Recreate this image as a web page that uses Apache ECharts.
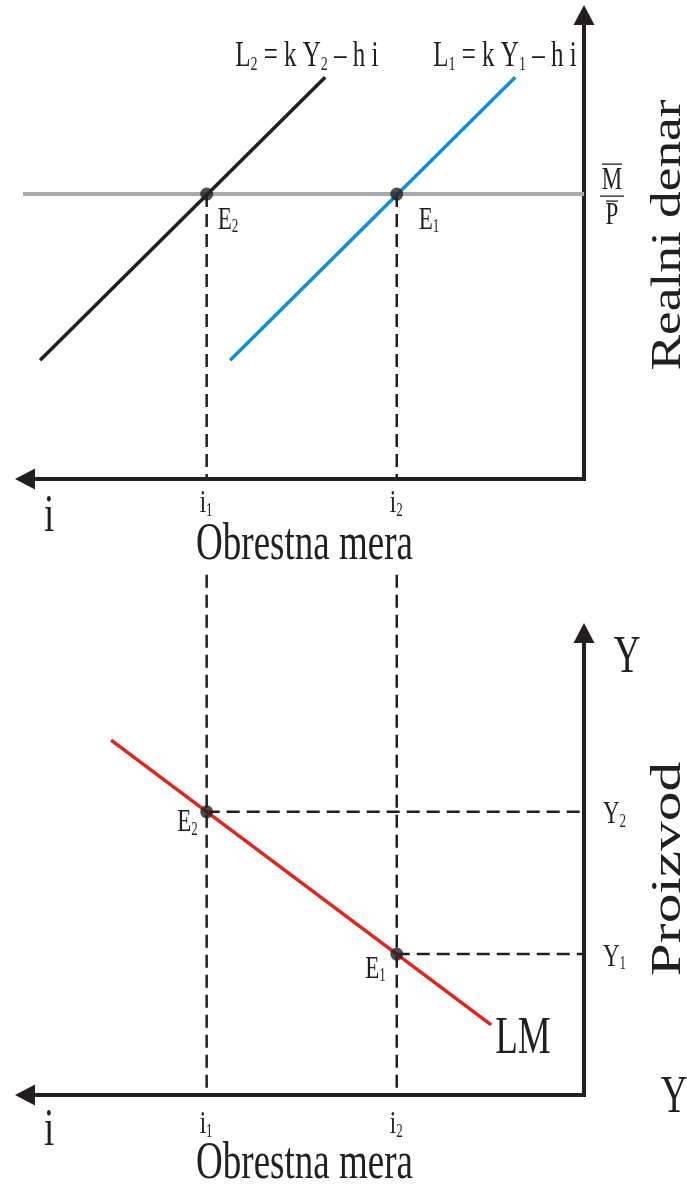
<!DOCTYPE html>
<html>
<head>
<meta charset="utf-8">
<script src="https://cdn.jsdelivr.net/npm/echarts@6/dist/echarts.min.js"></script>
<style>
  html, body { margin: 0; padding: 0; background: #fff; }
  #chart { width: 687px; height: 1184px; }
</style>
</head>
<body>
<div id="chart"></div>
<script>
// obrestna mera (i) raste v levo, izhodišče je desno spodaj
const iValues = [67.5, 33.5]            // i1, i2
const mpLevel = 61.4                     // M/P
const mpLineEnd = 101.8
const l2Line = [[97.3, 25.6], [46.3, 86.6]]
const l1Line = [[63.3, 25.6], [12.3, 86.6]]
const lmLine = [[84.6, 76.8], [16.6, 15.2]]
const yValues = [61.3, 30.5]            // Y2, Y1 (na LM pri i1, i2)
const guideTop = 112.6                   // vodila v spodnjem delu se začnejo nad osjo
const iNames = ['1', '2']
const eNames = ['2', '1']
const yNames = ['2', '1']

const INK = '#231f20'
const SERIF = '"Liberation Serif", "Times New Roman", serif'
const STRETCH = 1.4

const chart = echarts.init(document.getElementById('chart'))

const axisLine = (arrow) => ({
  show: true,
  onZero: false,
  symbol: arrow,
  symbolSize: [21, 20],
  lineStyle: { color: INK, width: 4, cap: 'square' },
})
const hidden = { axisTick: { show: false }, axisLabel: { show: false }, splitLine: { show: false } }
const dashed = { color: INK, width: 2.5, type: [13, 7] }

const seg = (g, data, lineStyle, extra = {}) => ({
  type: 'line',
  xAxisIndex: g,
  yAxisIndex: g,
  data,
  symbol: 'none',
  silent: true,
  lineStyle,
  ...extra,
})

const series = [
  seg(0, [[0, mpLevel], [mpLineEnd, mpLevel]], { color: '#a7a9ac', width: 4 }, { clip: false, z: 1 }),
  ...iValues.map((v) => seg(0, [[v, mpLevel], [v, 0]], dashed, { z: 2 })),
  seg(0, l2Line, { color: INK, width: 3.5 }, { z: 3 }),
  seg(0, l1Line, { color: '#0d8fdc', width: 3.5 }, { z: 3 }),
  {
    type: 'scatter',
    xAxisIndex: 0,
    yAxisIndex: 0,
    symbolSize: 13,
    itemStyle: { color: INK },
    data: iValues.map((v) => [v, mpLevel]),
    z: 5,
  },
  ...iValues.map((v) => seg(1, [[v, guideTop], [v, 0]], dashed, { clip: false, z: 2 })),
  ...iValues.map((v, k) => seg(1, [[v, yValues[k]], [0, yValues[k]]], dashed, { z: 2 })),
  seg(1, lmLine, { color: '#e2261c', width: 3.5 }, { z: 3 }),
  {
    type: 'scatter',
    xAxisIndex: 1,
    yAxisIndex: 1,
    symbolSize: 13,
    itemStyle: { color: INK },
    data: iValues.map((v, k) => [v, yValues[k]]),
    z: 5,
  },
]

chart.setOption({
  animation: false,
  grid: [
    { left: 25, top: 15, width: 559, height: 464, outerBoundsMode: 'none' },
    { left: 25, top: 633, width: 559, height: 462, outerBoundsMode: 'none' },
  ],
  xAxis: [0, 1].map((g) => ({
    type: 'value', gridIndex: g, min: 0, max: 100, inverse: true,
    axisLine: axisLine(['triangle', 'none']), ...hidden,
  })),
  yAxis: [0, 1].map((g) => ({
    type: 'value', gridIndex: g, min: 0, max: 100, position: 'right',
    axisLine: axisLine(['none', 'triangle']), ...hidden,
  })),
  series,
})

// besedila (raztegnjena pisava kot v izvirni sliki)
const txt = (x, y, text, size, opts = {}) => {
  const subSize = Math.round(size * 0.58)
  const stretch = opts.stretch || STRETCH
  return {
    type: 'text',
    x,
    y,
    silent: true,
    rotation: opts.rotate ? Math.PI / 2 : 0,
    scaleX: opts.rotate ? stretch : 1,
    scaleY: opts.rotate ? 1 : stretch,
    style: {
      text,
      fill: INK,
      fontFamily: SERIF,
      fontSize: size,
      align: opts.align || 'left',
      verticalAlign: 'middle',
      rich: {
        s: { fontSize: subSize, fontFamily: SERIF, fill: INK, padding: [Math.round(size * 0.42), 0, 0, 0] },
      },
    },
  }
}
const toPx = (g, p) => chart.convertToPixel({ gridIndex: g }, p)

const graphic = []
const o0 = toPx(0, [0, 0])
const o1 = toPx(1, [0, 0])
const end0 = toPx(0, [100, 100])
const end1 = toPx(1, [100, 100])

// zgornji del
const eTopOffsets = [[11, 26], [22, 26]]
iValues.forEach((v, k) => {
  const p = toPx(0, [v, mpLevel])
  graphic.push(txt(p[0] + eTopOffsets[k][0], p[1] + eTopOffsets[k][1], `E{s|${eNames[k]}}`, 23))
  const t = toPx(0, [v, 0])
  graphic.push(txt(t[0] - 7, t[1] + 25, `i{s|${iNames[k]}}`, 23))
})
const l2End = toPx(0, l2Line[1])
const l1End = toPx(0, l1Line[1])
graphic.push(txt(l2End[0] - 90, l2End[1] - 20, 'L{s|2} = k Y{s|2} \u2013 h i', 25))
graphic.push(txt(l1End[0] - 82, l1End[1] - 20, 'L{s|1} = k Y{s|1} \u2013 h i', 25))
graphic.push(txt(end0[0] + 19, o0[1] + 38, 'i', 37))
graphic.push(txt((end0[0] + o0[0]) / 2, o0[1] + 66, 'Obrestna mera', 37, { align: 'center' }))
graphic.push(txt(o0[0] + 85, (end0[1] + o0[1]) / 2 - 12, 'Realni denar', 43, { align: 'center', rotate: true, stretch: 1.24 }))

const mp = toPx(0, [0, mpLevel])
graphic.push({
  type: 'group',
  x: mp[0] + 28,
  y: mp[1],
  silent: true,
  children: [
    txt(0, -14, 'M', 23, { align: 'center' }),
    { type: 'line', shape: { x1: -10, y1: -30, x2: 10, y2: -30 }, style: { stroke: INK, lineWidth: 1.3 } },
    { type: 'line', shape: { x1: -12, y1: 2, x2: 12, y2: 2 }, style: { stroke: INK, lineWidth: 1.3 } },
    { type: 'line', shape: { x1: -6, y1: 7, x2: 6, y2: 7 }, style: { stroke: INK, lineWidth: 1.3 } },
    txt(0, 21, 'P', 23, { align: 'center' }),
  ],
})

// spodnji del
const eBotOffsets = [[-9, 11], [-11, 15]]
iValues.forEach((v, k) => {
  const p = toPx(1, [v, yValues[k]])
  graphic.push(txt(p[0] + eBotOffsets[k][0], p[1] + eBotOffsets[k][1], `E{s|${eNames[k]}}`, 23, { align: 'right' }))
  const t = toPx(1, [v, 0])
  graphic.push(txt(t[0] - 7, t[1] + 30, `i{s|${iNames[k]}}`, 23))
  const y = toPx(1, [0, yValues[k]])
  graphic.push(txt(y[0] + 19, y[1] + 3, `Y{s|${yNames[k]}}`, 23))
})
const lmEnd = toPx(1, lmLine[1])
graphic.push(txt(lmEnd[0] + 4, lmEnd[1] + 15, 'LM', 37))
graphic.push(txt(end1[0] + 19, o1[1] + 36, 'i', 37))
graphic.push(txt((end1[0] + o1[0]) / 2, o1[1] + 69, 'Obrestna mera', 37, { align: 'center' }))
graphic.push(txt(o1[0] + 43, end1[1] + 25, 'Y', 37, { align: 'center' }))
graphic.push(txt(o1[0] + 90, o1[1] + 3, 'Y', 37, { align: 'center' }))
graphic.push(txt(o1[0] + 85, (end1[1] + o1[1]) / 2 + 5, 'Proizvod', 43, { align: 'center', rotate: true, stretch: 1.38 }))

chart.setOption({ graphic })
</script>
</body>
</html>
